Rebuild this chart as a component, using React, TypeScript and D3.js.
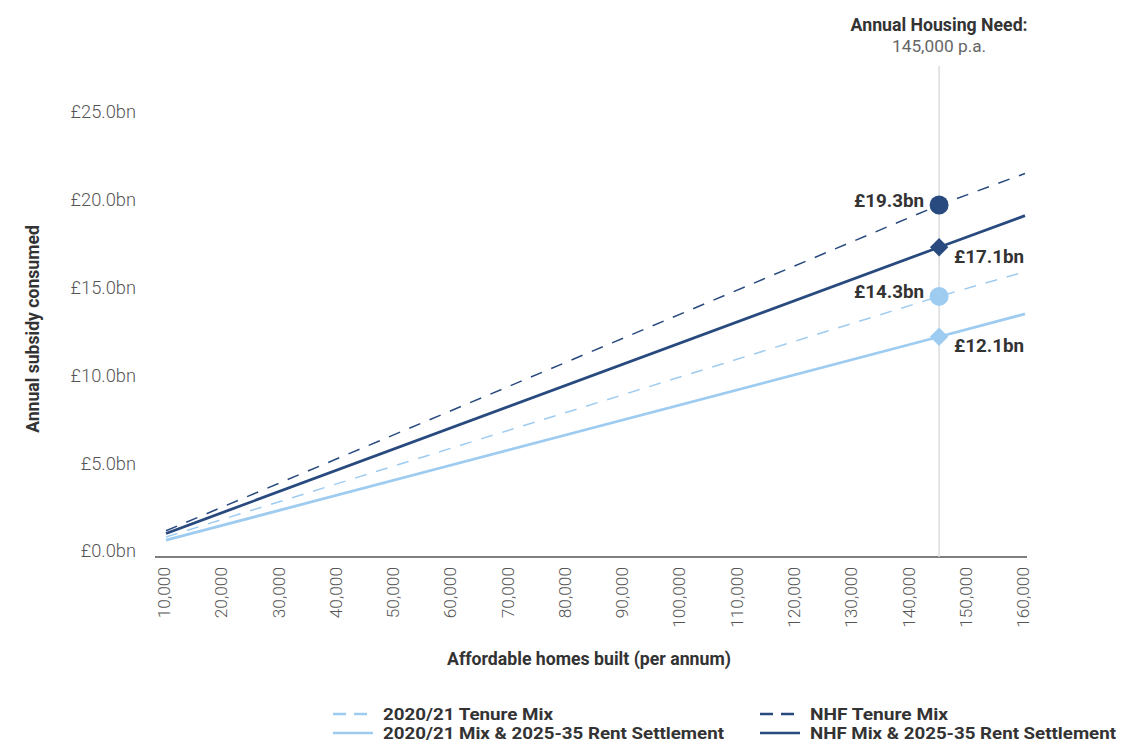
import React from "react";
import * as d3 from "d3";

const xTicks = [10000, 20000, 30000, 40000, 50000, 60000, 70000, 80000, 90000, 100000, 110000, 120000, 130000, 140000, 150000, 160000];
const yTicks = [0, 5, 10, 15, 20, 25];
const homes = [10000, 145000, 160000];
const nhfTenure = [1.15, 19.7, 21.5];
const nhfRent = [1.0, 17.3, 19.1];
const mixTenure = [0.8, 14.5, 15.9];
const mixRent = [0.62, 12.2, 13.5];
const needX = 145000;
const seriesNames = ["2020/21 Tenure Mix", "2020/21 Mix & 2025-35 Rent Settlement", "NHF Tenure Mix", "NHF Mix & 2025-35 Rent Settlement"];
const pointLabels = ["£14.3bn", "£12.1bn", "£19.3bn", "£17.1bn"];

const DARK = "#284a7e";
const LIGHT = "#9ecbf0";
const FONT = "Roboto, 'Noto Sans', sans-serif";

export default function App() {
  const x = d3.scaleLinear().domain([10000, 160000]).range([166, 1025]);
  const y = d3.scaleLinear().domain([0, 25]).range([551, 112]);
  const line = d3.line<[number, number]>().x(d => x(d[0])).y(d => y(d[1]));

  const series = [
    { name: seriesNames[0], vals: mixTenure, color: LIGHT, dash: true, marker: "circle", label: pointLabels[0], left: true },
    { name: seriesNames[1], vals: mixRent, color: LIGHT, dash: false, marker: "diamond", label: pointLabels[1], left: false },
    { name: seriesNames[2], vals: nhfTenure, color: DARK, dash: true, marker: "circle", label: pointLabels[2], left: true },
    { name: seriesNames[3], vals: nhfRent, color: DARK, dash: false, marker: "diamond", label: pointLabels[3], left: false },
  ];

  const legendPos = [
    { x: 333, y: 714, w: 170 },
    { x: 333, y: 733, w: 341 },
    { x: 760, y: 714, w: 138 },
    { x: 760, y: 733, w: 306 },
  ];

  return (
    <svg width={1123} height={743} style={{ position: "absolute", left: 0, top: 0, background: "#fff" }} fontFamily={FONT}>
      {/* y tick labels */}
      {yTicks.map(t => (
        <text key={t} x={136} y={y(t)} dy="0.35em" textAnchor="end" fontSize={18.3} fontWeight={300} fill="#555">
          £{t.toFixed(1)}bn
        </text>
      ))}
      {/* axis line */}
      <line x1={155} x2={1027} y1={557} y2={557} stroke="#555" strokeWidth={1.3} />
      {/* x tick labels */}
      {xTicks.map(t => (
        <text key={t} transform={`translate(${x(t) - 2},567) rotate(-90)`} dy="0.35em" textAnchor="end" fontSize={17.3} fontWeight={300} fill="#555">
          {d3.format(",")(t)}
        </text>
      ))}
      {/* housing need line */}
      <line x1={x(needX)} x2={x(needX)} y1={66} y2={557} stroke="#dcdcdc" strokeWidth={1.5} />
      <text x={x(needX)} y={25} dy="0.35em" textAnchor="middle" fontSize={17.7} fontWeight={700} fill="#333">Annual Housing Need:</text>
      <text x={x(needX)} y={46} dy="0.35em" textAnchor="middle" fontSize={17.3} fontWeight={400} fill="#666">{d3.format(",")(needX)} p.a.</text>
      {/* series */}
      {series.map((s, i) => (
        <path key={i} d={line(homes.map((h, j) => [h, s.vals[j]]) as [number, number][]) || ""} fill="none" stroke={s.color}
          strokeWidth={s.dash ? 1.5 : 2.8} strokeDasharray={s.dash ? "12,10" : undefined} />
      ))}
      {series.map((s, i) => {
        const cx = x(needX);
        const cy = y(s.vals[1]);
        return (
          <g key={"m" + i}>
            {s.marker === "circle" ? (
              <circle cx={cx} cy={cy} r={9.5} fill={s.color} />
            ) : (
              <rect x={cx - 6.5} y={cy - 6.5} width={13} height={13} fill={s.color} transform={`rotate(45,${cx},${cy})`} />
            )}
            <text x={s.left ? cx - 15 : cx + 15} y={s.left ? cy - 5 : cy + 9} dy="0.35em" textAnchor={s.left ? "end" : "start"}
              fontSize={18.8} fontWeight={700} fill="#333">{s.label}</text>
          </g>
        );
      })}
      {/* axis titles */}
      <text x={589} y={659} dy="0.35em" textAnchor="middle" fontSize={17.7} fontWeight={700} fill="#333">Affordable homes built (per annum)</text>
      <text transform="translate(33,329) rotate(-90)" dy="0.35em" textAnchor="middle" fontSize={17.6} fontWeight={700} fill="#333">Annual subsidy consumed</text>
      {/* legend */}
      {series.map((s, i) => (
        <g key={"l" + i}>
          <line x1={legendPos[i].x} x2={legendPos[i].x + 40} y1={legendPos[i].y} y2={legendPos[i].y} stroke={s.color}
            strokeWidth={2.5} strokeDasharray={s.dash ? "13,8" : undefined} />
          <text x={legendPos[i].x + 50} y={legendPos[i].y} dy="0.36em" fontSize={16} fontWeight={700} fill="#333"
            textLength={legendPos[i].w} lengthAdjust="spacingAndGlyphs">{s.name}</text>
        </g>
      ))}
    </svg>
  );
}
